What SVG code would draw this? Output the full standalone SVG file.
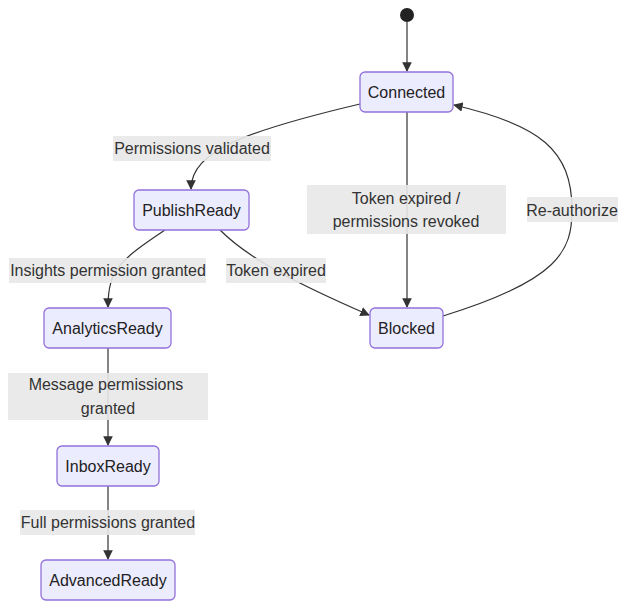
<svg xmlns="http://www.w3.org/2000/svg" width="626" height="608" viewBox="0 0 626 608">
<style>
.n rect{fill:#ECECFF;stroke:#9370DB;stroke-width:1.3}
text{font-family:"Liberation Sans",Arial,sans-serif;font-size:16px;fill:#333;text-anchor:middle;dominant-baseline:central}
.n text{fill:#222}
.e path{fill:none;stroke:#333;stroke-width:1.2;marker-end:url(#a)}
.l rect{fill:#e8e8e8;opacity:0.9}
</style>
<defs><marker id="a" viewBox="0 0 10 10" refX="9" refY="5" markerWidth="8" markerHeight="8" orient="auto"><path d="M0,0 L10,5 L0,10 z" fill="#333"/></marker></defs>
<rect width="626" height="608" fill="#fff"/>
<g class="e">
<path d="M407,22 L407,71"/>
<path d="M360,104 C250,130 191,150 191,189"/>
<path d="M407,112 L407,307"/>
<path d="M443,316 C560,280 572,250 572,210 C572,150 540,125 454,105"/>
<path d="M165,230 C120,260 108,270 108,307"/>
<path d="M220,230 C250,260 300,285 369,315"/>
<path d="M108,348 L108,445"/>
<path d="M108,486 L108,559"/>
</g>
<g class="l">
<rect x="113" y="136" width="158" height="25"/><text x="192" y="148">Permissions validated</text>
<rect x="307" y="185" width="199" height="49"/><text x="406" y="198">Token expired /</text><text x="406" y="221">permissions revoked</text>
<rect x="527" y="197" width="91" height="25"/><text x="572" y="210">Re-authorize</text>
<rect x="9" y="258" width="197" height="25"/><text x="108" y="270">Insights permission granted</text>
<rect x="226" y="258" width="100" height="25"/><text x="276" y="270">Token expired</text>
<rect x="8" y="373" width="200" height="47"/><text x="106" y="384">Message permissions</text><text x="108" y="408">granted</text>
<rect x="20" y="510" width="175" height="25"/><text x="108" y="522">Full permissions granted</text>
</g>
<circle id="start" cx="407" cy="15" r="7" fill="#222"/>
<g class="n" id="Connected"><rect x="360" y="72" width="93" height="40" rx="5"/><text x="406.5" y="92">Connected</text></g>
<g class="n" id="PublishReady"><rect x="134" y="190" width="115" height="40" rx="5"/><text x="191.5" y="210">PublishReady</text></g>
<g class="n" id="AnalyticsReady"><rect x="44" y="308" width="127" height="40" rx="5"/><text x="107.5" y="328">AnalyticsReady</text></g>
<g class="n" id="InboxReady"><rect x="57" y="446" width="102" height="40" rx="5"/><text x="108" y="466">InboxReady</text></g>
<g class="n" id="AdvancedReady"><rect x="41" y="560" width="134" height="40" rx="5"/><text x="108" y="580">AdvancedReady</text></g>
<g class="n" id="Blocked"><rect x="370" y="308" width="73" height="40" rx="5"/><text x="406.5" y="328">Blocked</text></g>
</svg>
